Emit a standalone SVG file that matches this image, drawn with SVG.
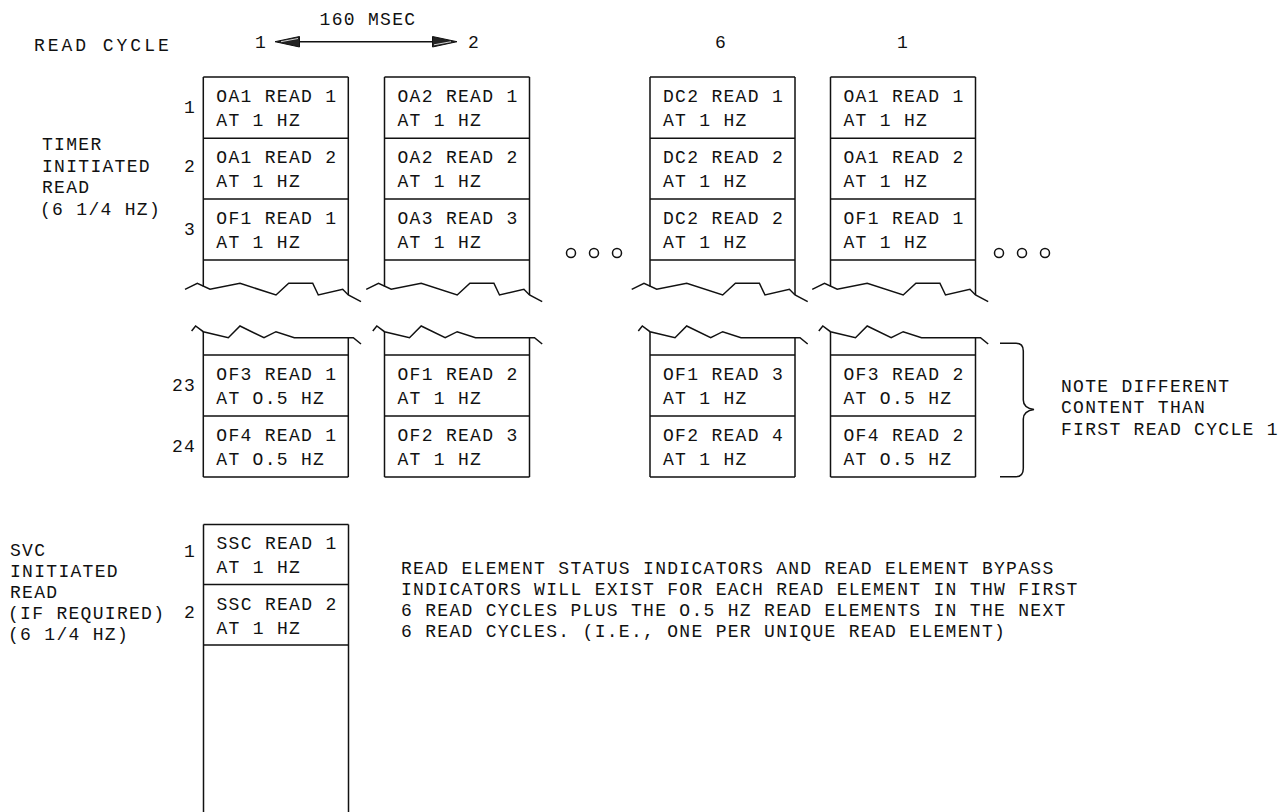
<svg xmlns="http://www.w3.org/2000/svg" width="1284" height="812" viewBox="0 0 1284 812">
<defs>
<style>
.t{font-family:"Liberation Mono","DejaVu Sans Mono",monospace;font-size:18px;letter-spacing:1.3px;fill:#111}
.m{text-anchor:middle}
.ln{fill:none;stroke:#111;stroke-width:1.5;stroke-linejoin:miter}
.ah{fill:#222;stroke:#111;stroke-width:1}
.ci{fill:#fff;stroke:#111;stroke-width:1.5}
</style>
<path id="topbreak" d="M-18.3,289.3 L-6,283.3 L6.7,289.3 L36.7,283.3 L72.7,295 L85.4,283.3 L109.4,283.3 L115,295 L139.4,289.3 L145,295 L157.7,301.7"/>
<path id="botbreak" d="M-11.7,331 L-7.7,326 L0,331.7 L25,337.7 L36.7,326 L60.7,337.7 L72.7,331.7 L91,337.7 L150,337.7 L157.7,344"/>
<path id="frame" d="M0,77 H145 M0,77 V286.5 M145,77 V295 M0,138.3 H145 M0,199 H145 M0,260 H145 M0,331.7 V477 M145,337.7 V477 M0,355 H145 M0,416 H145 M0,477 H145"/>
</defs>
<rect width="1284" height="812" fill="#fff"/>

<g id="header">
<text class="t" x="34" y="51" textLength="136" lengthAdjust="spacing">READ CYCLE</text>
<text class="t m" x="368" y="25">160 MSEC</text>
<text class="t m" x="261" y="48">1</text>
<text class="t m" x="474" y="48">2</text>
<text class="t m" x="721" y="48">6</text>
<text class="t m" x="903" y="48">1</text>
</g>

<g id="connectors">
<line class="ln" x1="290" y1="41.7" x2="443" y2="41.7"/>
<polygon class="ah" points="275,41.7 299.5,36.5 299.5,47"/>
<polyline points="281,41.7 298,38.5" fill="none" stroke="#fff" stroke-width="0.8"/>
<polygon class="ah" points="457,41.7 432.5,36.5 432.5,47"/>
<polyline points="451,41.7 434,44.8" fill="none" stroke="#fff" stroke-width="0.8"/>
</g>

<g id="timer-label">
<text class="t" x="42" y="150">TIMER</text>
<text class="t" x="42" y="171.7">INITIATED</text>
<text class="t" x="42" y="193.3">READ</text>
<text class="t" x="40" y="215">(6 1/4 HZ)</text>
<text class="t m" x="190" y="113">1</text>
<text class="t m" x="190" y="172">2</text>
<text class="t m" x="190" y="235">3</text>
<text class="t m" x="184" y="391">23</text>
<text class="t m" x="184" y="452">24</text>
</g>

<g id="cycle1" transform="translate(203.3,0)">
<use href="#frame" class="ln"/><use href="#topbreak" class="ln"/><use href="#botbreak" class="ln"/>
<text class="t" x="13" y="102">OA1 READ 1</text><text class="t" x="13" y="126">AT 1 HZ</text>
<text class="t" x="13" y="163">OA1 READ 2</text><text class="t" x="13" y="187">AT 1 HZ</text>
<text class="t" x="13" y="224">OF1 READ 1</text><text class="t" x="13" y="248">AT 1 HZ</text>
<text class="t" x="13" y="380">OF3 READ 1</text><text class="t" x="13" y="404">AT O.5 HZ</text>
<text class="t" x="13" y="441">OF4 READ 1</text><text class="t" x="13" y="465">AT O.5 HZ</text>
</g>

<g id="cycle2" transform="translate(384.5,0)">
<use href="#frame" class="ln"/><use href="#topbreak" class="ln"/><use href="#botbreak" class="ln"/>
<text class="t" x="13" y="102">OA2 READ 1</text><text class="t" x="13" y="126">AT 1 HZ</text>
<text class="t" x="13" y="163">OA2 READ 2</text><text class="t" x="13" y="187">AT 1 HZ</text>
<text class="t" x="13" y="224">OA3 READ 3</text><text class="t" x="13" y="248">AT 1 HZ</text>
<text class="t" x="13" y="380">OF1 READ 2</text><text class="t" x="13" y="404">AT 1 HZ</text>
<text class="t" x="13" y="441">OF2 READ 3</text><text class="t" x="13" y="465">AT 1 HZ</text>
</g>

<g id="ellipsis1">
<circle class="ci" cx="571" cy="253" r="4.5"/><circle class="ci" cx="594" cy="253" r="4.5"/><circle class="ci" cx="617" cy="253" r="4.5"/>
</g>

<g id="cycle6" transform="translate(650,0)">
<use href="#frame" class="ln"/><use href="#topbreak" class="ln"/><use href="#botbreak" class="ln"/>
<text class="t" x="13" y="102">DC2 READ 1</text><text class="t" x="13" y="126">AT 1 HZ</text>
<text class="t" x="13" y="163">DC2 READ 2</text><text class="t" x="13" y="187">AT 1 HZ</text>
<text class="t" x="13" y="224">DC2 READ 2</text><text class="t" x="13" y="248">AT 1 HZ</text>
<text class="t" x="13" y="380">OF1 READ 3</text><text class="t" x="13" y="404">AT 1 HZ</text>
<text class="t" x="13" y="441">OF2 READ 4</text><text class="t" x="13" y="465">AT 1 HZ</text>
</g>

<g id="cycle1b" transform="translate(830.5,0)">
<use href="#frame" class="ln"/><use href="#topbreak" class="ln"/><use href="#botbreak" class="ln"/>
<text class="t" x="13" y="102">OA1 READ 1</text><text class="t" x="13" y="126">AT 1 HZ</text>
<text class="t" x="13" y="163">OA1 READ 2</text><text class="t" x="13" y="187">AT 1 HZ</text>
<text class="t" x="13" y="224">OF1 READ 1</text><text class="t" x="13" y="248">AT 1 HZ</text>
<text class="t" x="13" y="380">OF3 READ 2</text><text class="t" x="13" y="404">AT O.5 HZ</text>
<text class="t" x="13" y="441">OF4 READ 2</text><text class="t" x="13" y="465">AT O.5 HZ</text>
</g>

<g id="ellipsis2">
<circle class="ci" cx="999" cy="253" r="4.5"/><circle class="ci" cx="1022" cy="253" r="4.5"/><circle class="ci" cx="1045" cy="253" r="4.5"/>
</g>

<g id="note-brace">
<path class="ln" d="M1000,343.3 H1016 Q1023.3,343.3 1023.3,351 V400 Q1023.3,408 1034,409.5 Q1023.3,411 1023.3,419 V468.5 Q1023.3,476.7 1016,476.7 H1000"/>
<text class="t" x="1061" y="391.7">NOTE DIFFERENT</text>
<text class="t" x="1061" y="413.3">CONTENT THAN</text>
<text class="t" x="1061" y="435">FIRST READ CYCLE 1</text>
</g>

<g id="svc-label">
<text class="t" x="10" y="556">SVC</text>
<text class="t" x="10" y="577">INITIATED</text>
<text class="t" x="10" y="598">READ</text>
<text class="t" x="8" y="619">(IF REQUIRED)</text>
<text class="t" x="8" y="640">(6 1/4 HZ)</text>
<text class="t m" x="190" y="557">1</text>
<text class="t m" x="190" y="618">2</text>
</g>

<g id="svc" transform="translate(203.5,0)">
<path class="ln" d="M0,524.5 H145 M0,524.5 V812 M145,524.5 V812 M0,584.5 H145 M0,645 H145"/>
<text class="t" x="13" y="549">SSC READ 1</text><text class="t" x="13" y="573">AT 1 HZ</text>
<text class="t" x="13" y="610">SSC READ 2</text><text class="t" x="13" y="634">AT 1 HZ</text>
</g>

<g id="note">
<text class="t" x="401" y="574">READ ELEMENT STATUS INDICATORS AND READ ELEMENT BYPASS</text>
<text class="t" x="401" y="595">INDICATORS WILL EXIST FOR EACH READ ELEMENT IN THW FIRST</text>
<text class="t" x="401" y="616">6 READ CYCLES PLUS THE O.5 HZ READ ELEMENTS IN THE NEXT</text>
<text class="t" x="401" y="637">6 READ CYCLES. (I.E., ONE PER UNIQUE READ ELEMENT)</text>
</g>
</svg>
